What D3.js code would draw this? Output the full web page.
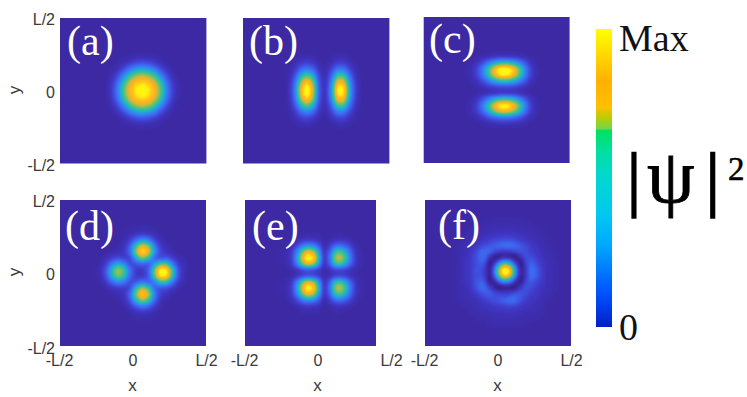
<!DOCTYPE html>
<html lang="en">
<head>
<meta charset="utf-8">
<script src="https://d3js.org/d3.v7.min.js"></script>
<style>
  html, body { margin: 0; padding: 0; background: #fff; overflow: hidden; }
  .tick text, .axlabel { font-family: "Liberation Sans", sans-serif; fill: #3a3a3a; }
</style>
</head>
<body>
<svg id="fig" width="747" height="397"></svg>
<script>
// values, |psi|^2 in percent of Max, 0 = background level
// rows go top to bottom, everything outside a listed window is background
var panelNames = ["(a)", "(b)", "(c)", "(d)", "(e)", "(f)"];
var tickLabels = ["-L/2", "0", "L/2"];
var tickValues = [-1, 0, 1];

var heatA = [
  [0,0,1,2,3,3,3,2,1,0,0,0],
  [0,1,4,10,15,18,15,10,4,1,0,0],
  [1,5,15,30,41,45,41,30,15,5,1,0],
  [3,13,33,54,67,72,67,54,33,13,3,0],
  [6,24,50,72,84,87,84,72,50,24,6,1],
  [8,30,59,81,91,98,91,81,59,30,9,1],
  [8,30,59,81,91,98,91,81,59,30,9,1],
  [6,24,50,72,84,87,84,72,50,24,6,1],
  [3,13,33,54,67,72,67,54,33,13,3,0],
  [1,5,15,30,41,45,41,30,15,5,1,0],
  [0,1,4,10,15,18,15,10,4,1,0,0],
  [0,0,1,2,3,3,3,2,1,0,0,0]
];
var heatB = [
  [0,1,2,3,2,0,0,1,3,3,1,0],
  [0,3,9,12,8,2,0,4,11,11,4,1],
  [1,7,24,32,23,5,1,11,30,29,12,2],
  [1,14,45,60,44,10,1,20,56,55,24,4],
  [2,22,66,86,64,14,2,30,80,78,34,6],
  [2,26,78,100,74,16,2,36,96,92,40,7],
  [2,26,78,100,74,16,2,36,96,92,40,7],
  [2,22,66,86,64,14,2,30,80,78,34,6],
  [1,14,45,60,44,10,1,20,56,55,24,4],
  [1,7,24,32,23,5,1,11,30,29,12,2],
  [0,3,9,12,8,2,0,4,11,11,4,1],
  [0,1,2,3,2,0,0,1,3,3,1,0]
];
var heatC = [
  [0,0,1,2,4,5,5,5,3,2,1,0],
  [1,4,12,25,39,48,50,45,34,19,6,1],
  [2,8,25,50,78,97,100,90,68,38,12,2],
  [2,8,24,48,75,93,96,86,65,36,12,2],
  [1,4,13,26,41,50,52,47,35,20,6,1],
  [0,1,3,6,9,12,12,11,8,5,1,0],
  [0,0,1,2,2,3,3,3,2,1,0,0],
  [1,4,14,28,43,53,55,50,37,21,7,1],
  [2,8,25,50,78,97,100,90,68,38,12,2],
  [2,7,20,41,64,80,82,74,56,31,10,2],
  [1,2,7,14,22,27,28,25,19,11,3,1],
  [0,0,1,2,3,4,4,4,3,2,0,0]
];
var heatD = [
  [0,0,0,0,0,1,1,2,2,1,0,0,0,0,0],
  [0,0,0,0,1,2,4,6,5,3,1,0,0,0,0],
  [0,0,0,0,2,8,22,34,28,11,3,1,0,0,0],
  [0,0,0,1,4,19,53,78,68,31,7,2,1,0,0],
  [0,0,1,3,6,24,68,96,82,40,12,5,2,0,0],
  [0,3,8,13,8,10,46,68,56,21,12,17,8,3,1],
  [1,8,28,44,34,12,14,22,14,35,60,58,28,7,2],
  [3,16,48,72,58,26,8,6,17,62,100,98,54,13,2],
  [2,14,44,66,54,23,7,6,15,58,98,94,52,13,2],
  [1,7,22,34,28,12,16,28,19,26,54,52,26,6,1],
  [0,1,5,8,7,12,50,72,60,21,14,14,7,2,0],
  [0,0,1,3,5,24,66,94,78,33,10,4,1,0,0],
  [0,0,0,1,3,17,48,70,58,24,5,1,0,0,0],
  [0,0,0,0,1,6,18,28,22,9,2,0,0,0,0],
  [0,0,0,0,0,1,3,5,4,2,1,0,0,0,0],
  [0,0,0,0,0,0,1,1,1,1,0,0,0,0,0]
];
var heatE = [
  [0,0,0,0,1,1,1,1,0,0,1,1,0,0,0,0],
  [0,0,0,2,4,6,5,3,0,1,3,5,3,1,0,0],
  [0,1,3,12,27,35,31,18,1,8,22,25,18,8,2,0],
  [1,2,7,30,62,82,72,40,3,19,52,58,42,18,4,1],
  [1,2,9,38,78,100,92,52,4,25,68,76,54,23,5,1],
  [1,2,7,30,62,82,72,40,3,19,52,58,42,18,4,1],
  [0,0,1,4,10,13,11,7,1,3,8,9,7,3,1,0],
  [0,0,1,4,10,14,12,7,1,3,9,10,8,3,1,0],
  [1,2,7,30,62,82,72,40,3,19,52,58,42,18,4,1],
  [1,2,9,38,78,100,92,52,4,25,68,76,54,23,5,1],
  [1,2,7,30,62,82,72,40,3,19,52,58,42,18,4,1],
  [0,1,3,12,27,35,31,18,1,8,22,25,18,8,2,0],
  [0,0,0,2,4,6,5,3,0,1,3,5,3,1,0,0],
  [0,0,0,0,1,1,1,1,0,0,1,1,0,0,0,0]
];
var heatF = [
  [0,0,0,0,1,1,2,2,2,2,2,1,1,0,0,0,0],
  [0,0,1,1,2,2,3,3,3,3,3,2,2,1,1,0,0],
  [0,1,2,3,3,5,5,6,6,6,5,5,3,2,1,1,0],
  [1,2,3,3,6,8,11,13,14,13,9,6,5,3,2,1,0],
  [2,3,3,8,13,17,22,27,30,28,20,14,9,5,3,2,0],
  [2,3,6,14,26,24,13,6,5,10,17,16,10,6,3,2,1],
  [2,5,8,16,27,10,-3,-2,-1,-4,1,15,15,9,5,3,1],
  [2,5,8,15,19,-1,-3,-3,-3,-3,-4,9,24,12,6,3,2],
  [2,5,8,18,13,-3,-3,-3,-3,-3,-3,3,30,17,6,3,2],
  [2,5,8,16,13,-3,-3,-3,-3,-3,-3,5,29,17,6,3,2],
  [2,5,8,18,22,0,-3,-3,-3,-3,-3,12,19,11,6,3,2],
  [2,3,6,17,28,16,0,-4,-4,-3,7,18,13,8,5,3,2],
  [2,3,5,9,15,22,15,11,11,17,20,15,9,6,3,2,0],
  [2,2,3,5,8,12,16,21,26,30,18,10,6,5,2,2,0],
  [0,2,2,3,5,6,8,9,11,11,8,6,5,3,2,0,0],
  [0,0,2,2,3,3,5,5,5,5,5,3,3,2,2,0,0],
  [0,0,0,2,2,2,3,3,3,3,2,2,2,2,0,0,0],
  [0,0,0,0,0,2,2,2,2,2,2,2,0,0,0,0,0]
];
// central spot of (f), read on a grid twice as fine
var heatFCore = [
  [9,0,-4,-5,-3,-2,-3,-5,-4,0,9],
  [0,-4,-1,8,16,18,16,8,-1,-4,0],
  [-4,-1,12,30,42,46,42,30,12,-1,-4],
  [-5,8,30,52,66,72,66,52,30,8,-5],
  [-3,16,42,66,86,94,86,66,42,16,-3],
  [-2,18,46,72,94,100,94,72,46,18,-2],
  [-3,16,42,66,86,94,86,66,42,16,-3],
  [-5,8,30,52,66,72,66,52,30,8,-5],
  [-4,-1,12,30,42,46,42,30,12,-1,-4],
  [0,-4,-1,8,16,18,16,8,-1,-4,0],
  [9,0,-4,-5,-3,-2,-3,-5,-4,0,9]
];

// first column / row of each window on the panel grid
var heatGrids = [heatA, heatB, heatC, heatD, heatE, heatF];
var gridStartCol = [8, 7, 7, 6, 6, 5];
var gridStartRow = [6, 6, 6, 4, 5, 3];
var gridSize = 24;
var coreSize = 48, coreStartCol = 21, coreStartRow = 18;

// colormap of the panels
var mapValues = [-6, 0, 8, 20, 33, 44, 54, 63, 70, 77, 84, 90, 100];
var mapColors = ["#2a1c80", "#3d2aa5", "#4038c8", "#3f60ec", "#3488f4", "#1cb4c8", "#3cc096", "#80c060", "#d0b83c", "#ffb020", "#ffc818", "#fff010", "#ffff10"];

// colormap of the bar, 0 to 1
var barValues = [0, 0.074, 0.141, 0.275, 0.376, 0.5, 0.59, 0.66, 0.665, 0.7, 0.74, 0.825, 0.93, 1];
var barColors = ["#0020c0", "#0040f0", "#0060ff", "#00a8ff", "#00c8f0", "#00d8d0", "#00e0a0", "#00e060", "#70d848", "#b8cc08", "#ffc000", "#ffb000", "#ffe000", "#ffff00"];

// layout
var panels = [
  {x0: 60,  x1: 206.4, y0: 18,  y1: 163.4, ax1: 206.4},
  {x0: 243, x1: 389.4, y0: 18,  y1: 163.4, ax1: 389.4},
  {x0: 423.7, x1: 569.6, y0: 17, y1: 163, ax1: 569.6},
  {x0: 60,  x1: 206,   y0: 200, y1: 346, ax1: 206},
  {x0: 245, x1: 376,   y0: 200, y1: 346, ax1: 391},
  {x0: 425, x1: 571,   y0: 200, y1: 346, ax1: 571}
];
var labelPos = [[67, 55], [249, 55], [429, 53], [65, 240], [252, 240], [438, 239]];

var svg = d3.select("#fig");
var defs = svg.append("defs");

var color = d3.scaleLinear().domain(mapValues).range(mapColors).interpolate(d3.interpolateRgb);
var gray = d3.scaleLinear().domain([-6, 100]).range([0, 255]).clamp(true);

// filter: soften the cells, then send the gray level through the colormap
var table = d3.range(-6, 101).map(function(v) { return d3.rgb(color(v)); });
function makeFilter(id, sx, sy, box) {
  var f = defs.append("filter").attr("id", id)
    .attr("filterUnits", "userSpaceOnUse")
    .attr("x", box.x0 - 30).attr("y", box.y0 - 30)
    .attr("width", box.x1 - box.x0 + 60).attr("height", box.y1 - box.y0 + 60)
    .attr("color-interpolation-filters", "sRGB");
  f.append("feGaussianBlur").attr("stdDeviation", sx + " " + sy);
  var tr = f.append("feComponentTransfer");
  ["R", "G", "B"].forEach(function(ch) {
    var key = ch.toLowerCase();
    tr.append("feFunc" + ch).attr("type", "table")
      .attr("tableValues", table.map(function(c) { return (c[key] / 255).toFixed(3); }).join(" "));
  });
}

function drawCells(g, rows, size, startCol, startRow, box) {
  var x = d3.scaleBand().domain(d3.range(size)).range([box.x0, box.x1]);
  var y = d3.scaleBand().domain(d3.range(size)).range([box.y0, box.y1]);
  var cells = [];
  rows.forEach(function(row, j) {
    row.forEach(function(v, i) { cells.push({c: startCol + i, r: startRow + j, v: v}); });
  });
  g.selectAll("rect.cell").data(cells).enter().append("rect")
    .attr("class", "cell")
    .attr("x", function(d) { return x(d.c); })
    .attr("y", function(d) { return y(d.r); })
    .attr("width", x.bandwidth() + 0.3)
    .attr("height", y.bandwidth() + 0.3)
    .attr("fill", function(d) { var g = Math.round(gray(d.v)); return d3.rgb(g, g, g); });
}

panels.forEach(function(p, k) {
  defs.append("clipPath").attr("id", "clip" + k).append("rect")
    .attr("x", p.x0).attr("y", p.y0).attr("width", p.x1 - p.x0).attr("height", p.y1 - p.y0);

  var sx = (p.x1 - p.x0) / gridSize * 0.42, sy = (p.y1 - p.y0) / gridSize * 0.42;
  makeFilter("soft" + k, sx, sy, p);

  var clip = svg.append("g").attr("clip-path", "url(#clip" + k + ")");
  var g = clip.append("g").attr("filter", "url(#soft" + k + ")");
  // background level, bigger than the panel so the blur has no edge
  var g0 = Math.round(gray(0));
  g.append("rect").attr("x", p.x0 - 25).attr("y", p.y0 - 25)
    .attr("width", p.x1 - p.x0 + 50).attr("height", p.y1 - p.y0 + 50)
    .attr("fill", d3.rgb(g0, g0, g0));
  drawCells(g, heatGrids[k], gridSize, gridStartCol[k], gridStartRow[k], p);

  if (k == 5) {
    makeFilter("softCore", 1.5, 1.5, p);
    var core = clip.append("g").attr("filter", "url(#softCore)");
    drawCells(core, heatFCore, coreSize, coreStartCol, coreStartRow, p);
  }

  clip.append("text")
    .attr("x", labelPos[k][0]).attr("y", labelPos[k][1])
    .attr("font-family", "Liberation Serif, serif").attr("font-size", 42).attr("fill", "#fff")
    .text(panelNames[k]);
});

// axes
function fmt(d) { return tickLabels[tickValues.indexOf(d)]; }
[0, 3].forEach(function(k) {
  var p = panels[k];
  var yScale = d3.scaleLinear().domain([-1, 1]).range([p.y1 + 2, p.y0 + 1]);
  var ax = svg.append("g").attr("transform", "translate(58,0)")
    .call(d3.axisLeft(yScale).tickValues(tickValues).tickFormat(fmt).tickSize(0).tickPadding(3));
  ax.select(".domain").remove();
  ax.selectAll("text").attr("font-size", 16);
  svg.append("text").attr("class", "axlabel")
    .attr("transform", "translate(20," + (p.y0 + 72) + ") rotate(-90)")
    .attr("text-anchor", "middle").attr("font-size", 17).text("y");
});
[3, 4, 5].forEach(function(k) {
  var p = panels[k];
  var xScale = d3.scaleLinear().domain([-1, 1]).range([p.x0 - 1, p.ax1]);
  var ax = svg.append("g").attr("transform", "translate(0,348)")
    .call(d3.axisBottom(xScale).tickValues(tickValues).tickFormat(fmt).tickSize(0).tickPadding(7));
  ax.select(".domain").remove();
  ax.selectAll("text").attr("font-size", 16);
  svg.append("text").attr("class", "axlabel")
    .attr("x", xScale(0)).attr("y", 391)
    .attr("text-anchor", "middle").attr("font-size", 17).text("x");
});

// colour bar
var barX = 596, barW = 16, barTop = 29, barBottom = 327;
var grad = defs.append("linearGradient").attr("id", "barGrad")
  .attr("x1", 0).attr("y1", 1).attr("x2", 0).attr("y2", 0);
grad.selectAll("stop").data(barValues).enter().append("stop")
  .attr("offset", function(d) { return d; })
  .attr("stop-color", function(d, i) { return barColors[i]; });
svg.append("rect").attr("x", barX).attr("y", barTop)
  .attr("width", barW).attr("height", barBottom - barTop)
  .attr("fill", "url(#barGrad)");

var serif = "Liberation Serif, serif";
svg.append("text").attr("x", 619).attr("y", 51).attr("font-family", serif).attr("font-size", 38).attr("fill", "#111").text("Max");
svg.append("text").attr("x", 619).attr("y", 340).attr("font-family", serif).attr("font-size", 38).attr("fill", "#111").text("0");
var psi = svg.append("g").attr("font-family", serif).attr("fill", "#000").attr("stroke", "#000");
psi.append("text").attr("x", 626.8).attr("y", 203).attr("font-size", 72).attr("stroke-width", 1.6).text("|");
psi.append("text").attr("x", 647).attr("y", 202).attr("font-size", 76).attr("stroke-width", 0.8).text("ψ");
psi.append("text").attr("x", 705.5).attr("y", 203).attr("font-size", 72).attr("stroke-width", 1.6).text("|");
psi.append("text").attr("x", 728).attr("y", 180).attr("font-size", 33).attr("stroke-width", 0.5).text("2");
</script>
</body>
</html>
